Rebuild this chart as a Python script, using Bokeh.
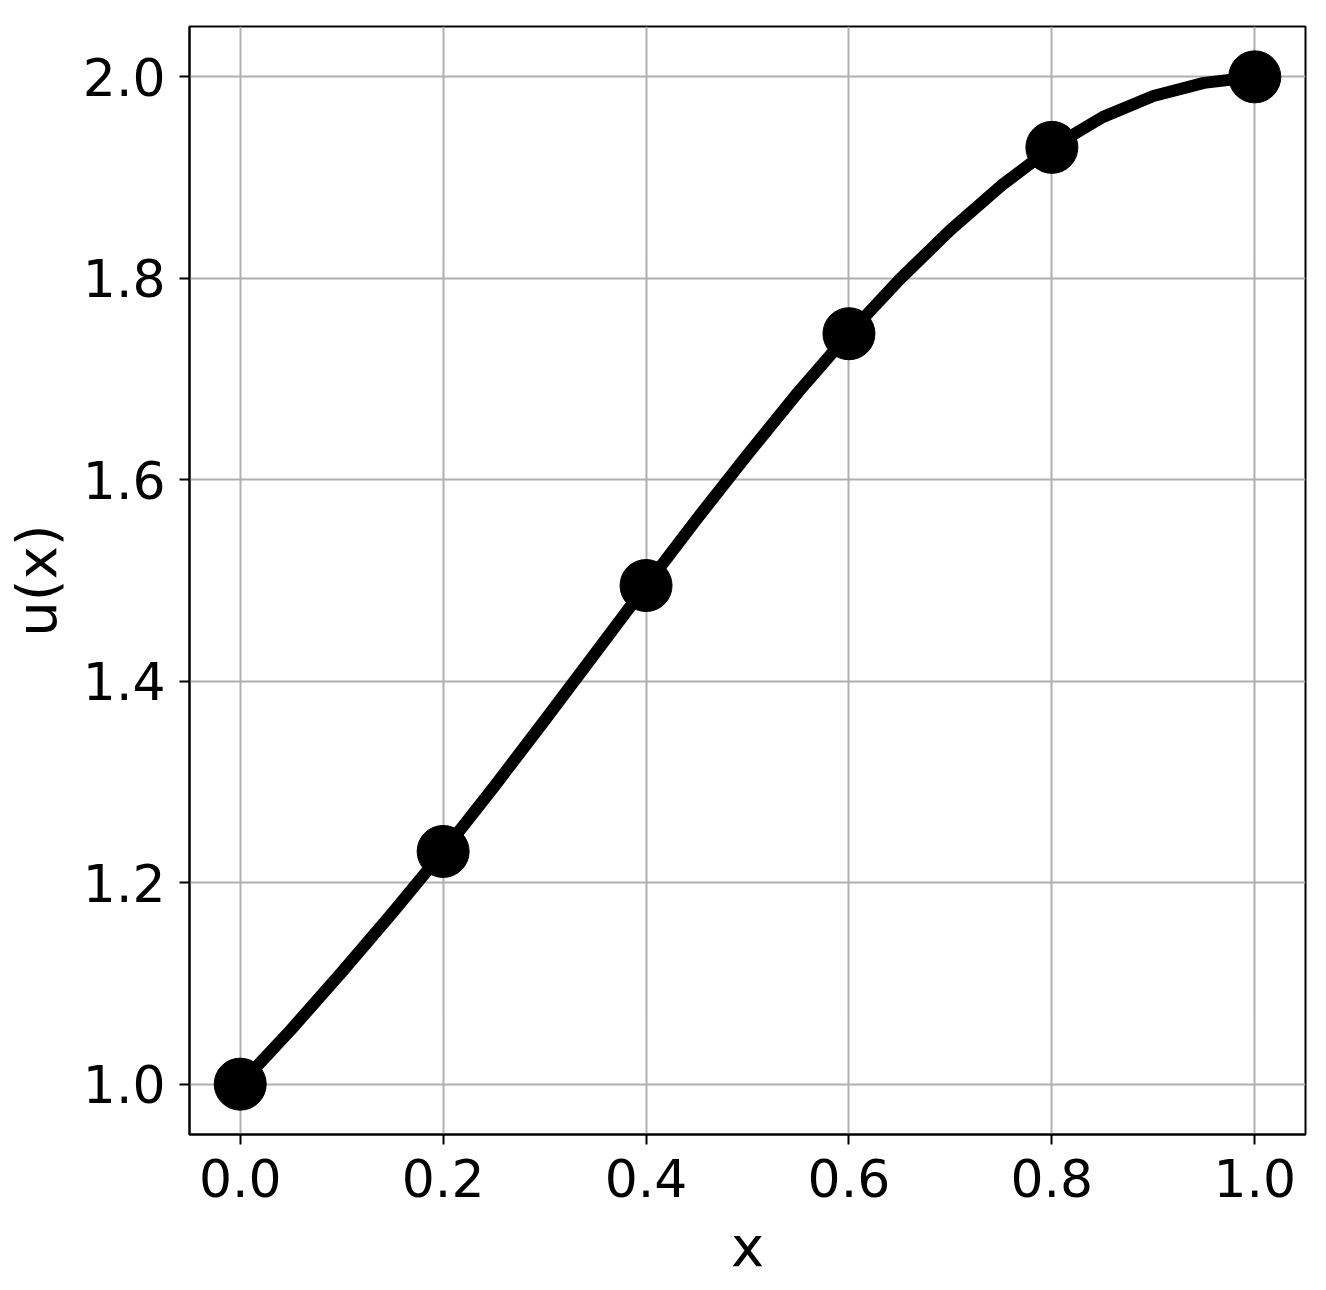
from bokeh.plotting import figure
from bokeh.models import Range1d, FixedTicker
from bokeh.embed import file_html
from bokeh.resources import INLINE

# Node values (markers)
x_nodes = [0.0, 0.2, 0.4, 0.6, 0.8, 1.0]
u_nodes = [1.0, 1.231, 1.495, 1.745, 1.930, 2.0]

# Curve
x_curve = [0.0, 0.05, 0.1, 0.15, 0.2, 0.25, 0.3, 0.35, 0.4, 0.45, 0.5, 0.55, 0.6, 0.65, 0.7, 0.75, 0.8, 0.85, 0.9, 0.95, 1.0]
u_curve = [1.0, 1.054, 1.111, 1.170, 1.231, 1.295, 1.361, 1.428, 1.495, 1.561, 1.625, 1.687, 1.745, 1.799, 1.848, 1.892, 1.930, 1.960, 1.981, 1.994, 2.0]

x_ticks = [0.0, 0.2, 0.4, 0.6, 0.8, 1.0]
y_ticks = [1.0, 1.2, 1.4, 1.6, 1.8, 2.0]

FONT = "DejaVu Sans"

p = figure(frame_width=1116, frame_height=1108, output_backend="svg", toolbar_location=None,
           x_range=Range1d(-0.05, 1.05), y_range=Range1d(0.95, 2.05),
           min_border_left=181, min_border_right=13, min_border_top=26, min_border_bottom=140,
           x_axis_label="x", y_axis_label="u(x)")

p.line(x_curve, u_curve, line_color="black", line_width=12, line_join="round", line_cap="round")
p.scatter(x_nodes, u_nodes, size=52, color="black")

p.outline_line_color = "black"
p.outline_line_width = 2
p.outline_line_alpha = 1

for ax in (p.xaxis[0], p.yaxis[0]):
    ax.axis_line_color = "black"
    ax.axis_line_width = 2
    ax.major_tick_line_color = "black"
    ax.major_tick_line_width = 2
    ax.major_tick_out = 10
    ax.major_tick_in = 0
    ax.minor_tick_line_color = None
    ax.major_label_text_font = FONT
    ax.major_label_text_font_size = "52px"
    ax.major_label_text_color = "black"
    ax.axis_label_text_font = FONT
    ax.axis_label_text_font_size = "56px"
    ax.axis_label_text_font_style = "normal"
    ax.axis_label_text_color = "black"
    ax.major_label_standoff = 14

p.xaxis.ticker = FixedTicker(ticks=x_ticks)
p.yaxis.ticker = FixedTicker(ticks=y_ticks)
p.xaxis.major_label_overrides = {t: f"{t:.1f}" for t in x_ticks}
p.yaxis.major_label_overrides = {t: f"{t:.1f}" for t in y_ticks}
p.xaxis.axis_label_standoff = 14
p.yaxis.axis_label_standoff = 11

p.xgrid.ticker = FixedTicker(ticks=x_ticks)
p.ygrid.ticker = FixedTicker(ticks=y_ticks)
for g in (p.xgrid[0], p.ygrid[0]):
    g.grid_line_color = "#b0b0b0"
    g.grid_line_width = 2

open("out.html", "w").write(file_html(p, INLINE))
